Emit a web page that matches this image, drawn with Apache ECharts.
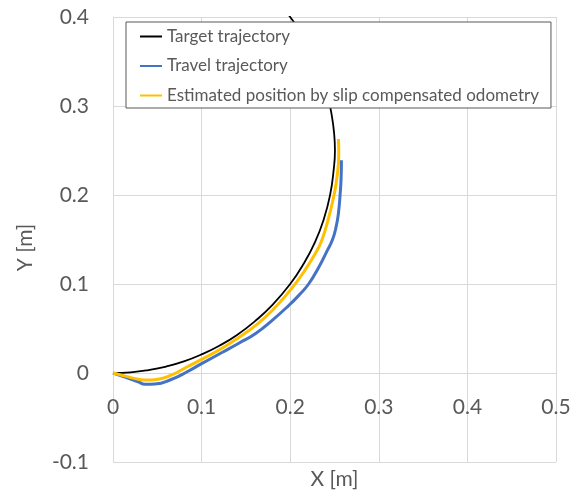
<!DOCTYPE html>
<html>
<head>
<meta charset="utf-8">
<script src="https://cdn.jsdelivr.net/npm/echarts@6/dist/echarts.min.js"></script>
<style>
  html, body { margin: 0; padding: 0; background: #fff; }
  #chart { width: 576px; height: 493px; }
</style>
</head>
<body>
<div id="chart"></div>
<script>
// Target trajectory (circular path)
var targetX = [0, 0.02, 0.04, 0.06, 0.08, 0.1, 0.12, 0.14, 0.16, 0.18, 0.2, 0.215, 0.228, 0.238, 0.245, 0.249, 0.2505, 0.2495, 0.2468, 0.2427, 0.2369, 0.2283, 0.2154, 0.2, 0.1874];
var targetY = [0, 0.0008, 0.0033, 0.0073, 0.013, 0.0209, 0.0307, 0.0427, 0.058, 0.0765, 0.1, 0.1224, 0.147, 0.173, 0.2, 0.2277, 0.25, 0.27, 0.29, 0.31, 0.33, 0.352, 0.377, 0.4, 0.415];

// Measured travel trajectory
var travelX = [0, 0.0136, 0.0285, 0.036, 0.0474, 0.0663, 0.0832, 0.1, 0.1235, 0.142, 0.161, 0.18, 0.198, 0.21, 0.2208, 0.2318, 0.2415, 0.2478, 0.252, 0.2545, 0.2563, 0.2575, 0.2578];
var travelY = [0, -0.0046, -0.0099, -0.0126, -0.0123, -0.007, 0.0011, 0.0105, 0.0233, 0.0335, 0.0445, 0.0595, 0.0755, 0.0875, 0.1, 0.118, 0.137, 0.15, 0.165, 0.18, 0.2, 0.22, 0.239];

// Estimated position from slip compensated odometry
var estX = [0, 0.0136, 0.0285, 0.038, 0.0474, 0.0663, 0.0832, 0.1, 0.1235, 0.142, 0.161, 0.18, 0.2, 0.215, 0.23, 0.236, 0.2435, 0.2495, 0.2528, 0.2548, 0.2545];
var estY = [0, -0.0035, -0.007, -0.008, -0.0075, -0.0022, 0.0067, 0.0153, 0.0281, 0.04, 0.0535, 0.0705, 0.093, 0.113, 0.137, 0.15, 0.175, 0.2, 0.22, 0.245, 0.263];

var seriesNames = ['Target trajectory', 'Travel trajectory', 'Estimated position by slip compensated odometry'];
var tickFmt = function (v) { return String(Math.round(v * 10) / 10); };

function pairs(xs, ys) {
  return xs.map(function (x, i) { return [x, ys[i]]; });
}

var FONT = 'Lato';
var TEXT = '#595959';
var GRID = '#D9D9D9';

// plot box
var GRID_TOP = 17, GRID_BOTTOM = 31, CHART_H = 493;
var Y_MIN = -0.1, Y_MAX = 0.4;
// move the x axis up so that it crosses the y axis at 0
var plotH = CHART_H - GRID_TOP - GRID_BOTTOM;
var xAxisOffset = -plotH * (0 - Y_MIN) / (Y_MAX - Y_MIN);

var chart = echarts.init(document.getElementById('chart'), null, { renderer: 'canvas' });
chart.setOption({
  animation: false,
  backgroundColor: '#ffffff',
  grid: { left: 113, right: 20, top: GRID_TOP, bottom: GRID_BOTTOM, containLabel: false, outerBoundsMode: 'none' },
  legend: {
    left: 126, top: 22,
    orient: 'vertical',
    backgroundColor: '#ffffff',
    borderColor: '#595959', borderWidth: 1,
    padding: [6, 12, 4, 13],
    itemWidth: 22, itemHeight: 17, itemGap: 12.5,
    itemStyle: { opacity: 0 },
    textStyle: { fontFamily: FONT, fontSize: 17, color: TEXT },
    data: seriesNames
  },
  xAxis: {
    type: 'value', min: 0, max: 0.5, interval: 0.1,
    position: 'bottom', offset: xAxisOffset,
    name: 'X [m]', nameLocation: 'middle', nameGap: 96,
    nameTextStyle: { fontFamily: FONT, fontSize: 21, color: TEXT },
    axisLine: { show: true, onZero: false, lineStyle: { color: GRID, width: 1 } },
    axisTick: { show: false },
    axisLabel: { fontFamily: FONT, fontSize: 21, color: TEXT, margin: 24, formatter: tickFmt },
    splitLine: { show: true, lineStyle: { color: GRID, width: 1 } }
  },
  yAxis: {
    type: 'value', min: Y_MIN, max: Y_MAX, interval: 0.1,
    name: 'Y [m]', nameLocation: 'middle', nameGap: 77, nameRotate: 90,
    nameTextStyle: { fontFamily: FONT, fontSize: 21, color: TEXT, padding: [0, 16, 0, 0] },
    axisLine: { show: true, onZero: false, lineStyle: { color: GRID, width: 1 } },
    axisTick: { show: false },
    axisLabel: { fontFamily: FONT, fontSize: 21, color: TEXT, margin: 24, formatter: tickFmt },
    splitLine: { show: true, lineStyle: { color: GRID, width: 1 } }
  },
  series: [
    {
      name: seriesNames[0], type: 'line', symbol: 'none', smooth: 0.5,
      data: pairs(targetX, targetY),
      lineStyle: { color: '#000000', width: 1.8 }, itemStyle: { color: '#000000' }, z: 2
    },
    {
      name: seriesNames[1], type: 'line', symbol: 'none', smooth: 0.5,
      data: pairs(travelX, travelY),
      lineStyle: { color: '#4472C4', width: 3 }, itemStyle: { color: '#4472C4' }, z: 3
    },
    {
      name: seriesNames[2], type: 'line', symbol: 'none', smooth: 0.5,
      data: pairs(estX, estY),
      lineStyle: { color: '#FFC000', width: 3 }, itemStyle: { color: '#FFC000' }, z: 4
    }
  ]
});
</script>
</body>
</html>
